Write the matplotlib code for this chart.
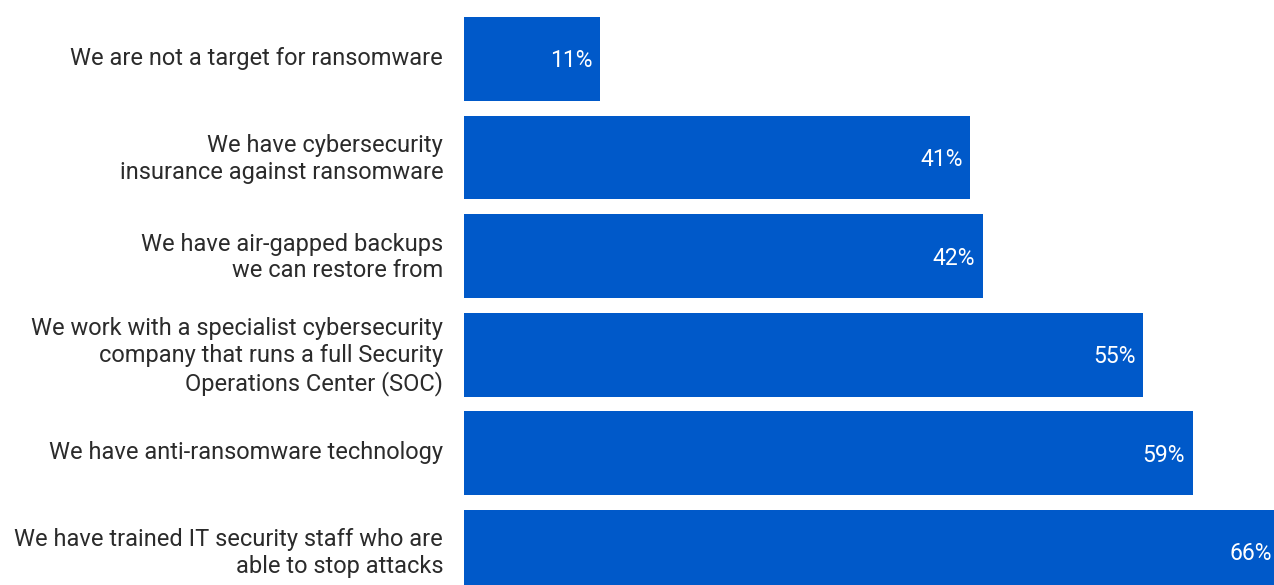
import matplotlib.pyplot as plt
import matplotlib.transforms as mtransforms

categories = [
    "We are not a target for ransomware",
    "We have cybersecurity\ninsurance against ransomware",
    "We have air-gapped backups\nwe can restore from",
    "We work with a specialist cybersecurity\ncompany that runs a full Security\nOperations Center (SOC)",
    "We have anti-ransomware technology",
    "We have trained IT security staff who are\nable to stop attacks",
]
values = [11, 41, 42, 55, 59, 66]

bar_color = "#0059c9"
text_color = "#2b2b2b"

plt.rcParams['font.family'] = ['Roboto', 'DejaVu Sans']

fig = plt.figure(figsize=(12.74, 5.85), dpi=100)
ax = fig.add_axes([464 / 1274, 0, 810 / 1274, 1])

ypos = list(range(len(categories)))
ax.barh(ypos, values, height=0.85, color=bar_color)

for y, v in zip(ypos, values):
    ax.text(v - 0.6, y + 0.02, f"{v}%", ha="right", va="center",
            color="white", fontsize=16.5)

ax.set_xlim(0, 65.6)
ax.set_ylim(5.335, -0.598)
ax.set_yticks(ypos)
ax.set_yticklabels(categories, fontsize=17, color=text_color,
                   linespacing=1.2)
ax.tick_params(axis="y", length=0, pad=15)
ax.tick_params(axis="x", bottom=False, labelbottom=False)
for s in ax.spines.values():
    s.set_visible(False)

# nudge the category labels up a little
shift = mtransforms.ScaledTranslation(0, 3 / 100, fig.dpi_scale_trans)
for lab in ax.get_yticklabels():
    lab.set_transform(lab.get_transform() + shift)

fig.savefig("out.png", dpi=100)
